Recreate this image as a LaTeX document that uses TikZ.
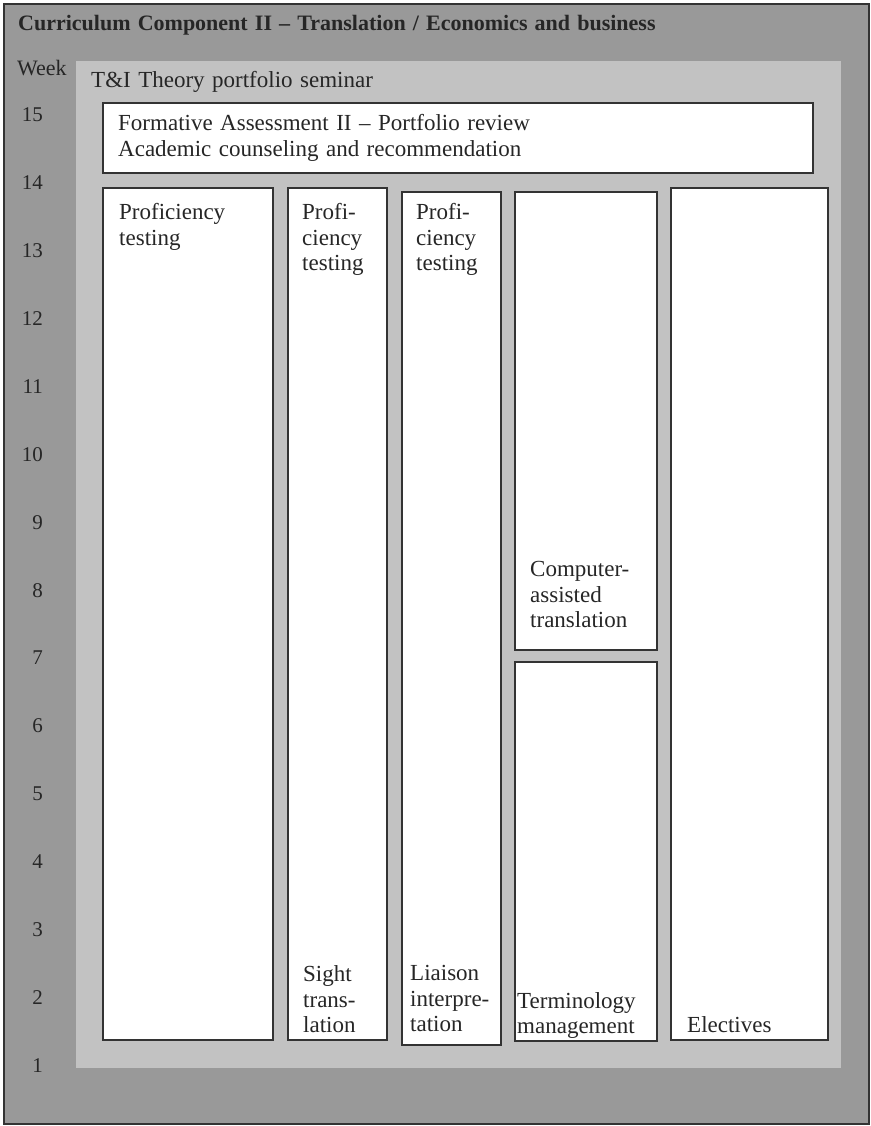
\documentclass[tikz,border=0pt]{standalone}
\usepackage{fontspec}
\setmainfont{Liberation Serif}[WordSpace=1.3]
\begin{document}
\begin{tikzpicture}[x=1pt,y=-1pt,
  lbl/.style={anchor=north west,inner sep=0pt,align=left,font=\fontsize{23}{25.5}\selectfont,text=black!85},
  wk/.style={anchor=base east,inner sep=0pt,font=\fontsize{21}{24}\selectfont,text=black!85},
  cell/.style={draw=black!80,line width=1.4pt,fill=white}]
\useasboundingbox (0,0) rectangle (870,1126);
% frame and seminar panel
\draw[draw=black!80,line width=2pt,fill=black!40] (4,4) rectangle (869,1124);
\fill[black!24] (76,61) rectangle (841,1068);
\node[anchor=base west,inner sep=0pt,font=\fontsize{22}{24}\selectfont\bfseries,text=black!85] (title) at (18,31) {Curriculum Component II -- Translation / Economics and business};
\node[wk,anchor=base west,font=\fontsize{22}{24}\selectfont] (week) at (17,76) {Week};
% week numbers, right-aligned
\foreach \w [count=\i from 0] in {15,14,...,1}
  \node[wk] (w\w) at (43,122+67.86*\i) {\w};
% text tops sit one ascender (about 15.7pt) above the first baseline
\node[lbl] (seminar) at (91,71.5) {T\&I Theory portfolio seminar};
% course boxes
\draw[cell] (103,103) rectangle (813,173);
\node[lbl] (formative) at (118,114.5) {Formative Assessment II -- Portfolio review\\Academic counseling and recommendation};
\draw[cell] (103,188) rectangle (273,1040);
\node[lbl] (c1) at (119,203.5) {Proficiency\\testing};
\draw[cell] (288,188) rectangle (387,1040);
\node[lbl] (c2) at (302,203.5) {Profi-\\ciency\\testing};
\node[lbl] (c2b) at (303,965.5) {Sight\\trans-\\lation};
\draw[cell] (402,192) rectangle (501,1045);
\node[lbl] (c3) at (416,203.5) {Profi-\\ciency\\testing};
\node[lbl] (c3b) at (410,965.5) {Liaison\\interpre-\\tation};
\draw[cell] (515,192) rectangle (657,650);
\node[lbl] (c4) at (530,561.5) {Computer-\\assisted\\translation};
\draw[cell] (515,662) rectangle (657,1041);
\node[lbl] (c4b) at (517,992) {Terminology\\management};
\draw[cell] (671,188) rectangle (828,1040);
\node[lbl] (c5) at (687,1016) {Electives};
\end{tikzpicture}
\end{document}
